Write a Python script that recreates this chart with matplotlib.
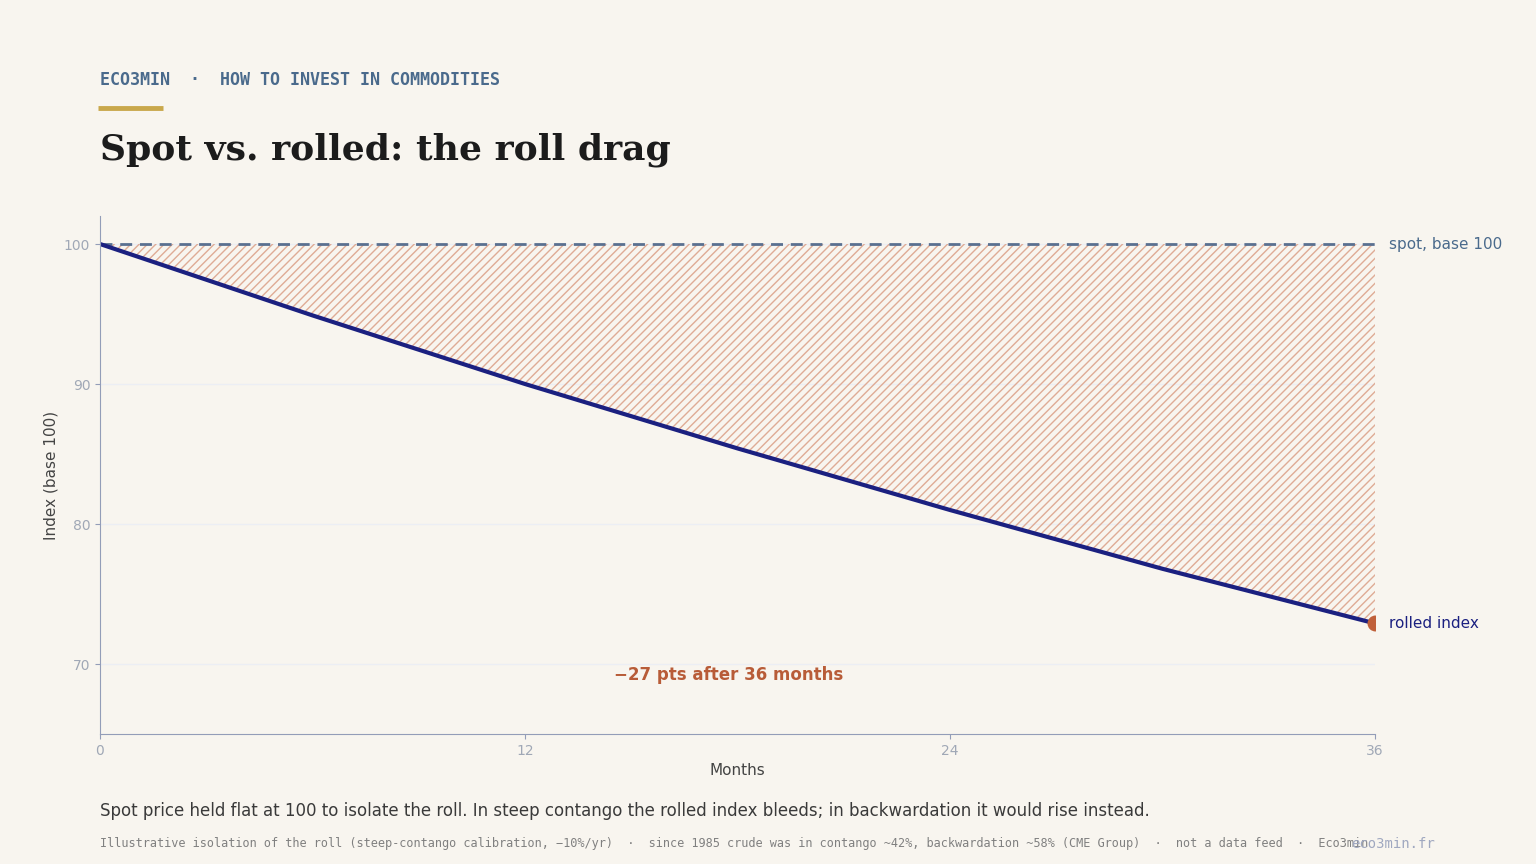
import matplotlib.pyplot as plt
import numpy as np

# values (months -> index level)
months = [0, 6, 12, 18, 24, 30, 36]
rolled = [100.0, 94.9, 90.0, 85.4, 81.0, 76.8, 72.9]
spot = [100, 100, 100, 100, 100, 100, 100]
x_ticks = [0, 12, 24, 36]
y_ticks = [70, 80, 90, 100]

bg = '#f8f5ef'
navy = '#1b2080'
slate = '#4a6a8c'
rust = '#b85c38'

fig = plt.figure(figsize=(15.36, 8.64), dpi=100, facecolor=bg)
ax = fig.add_axes([100 / 1536, 1 - 734 / 864, 1275 / 1536, 518 / 864])
ax.set_facecolor(bg)

m = np.array(months)
r = np.array(rolled)
s = np.array(spot)

# shaded roll drag
ax.fill_between(m, r, s, facecolor='none', edgecolor='#dfab95', hatch='////', linewidth=0)
ax.plot(m, s, color='#5a7090', lw=2, ls=(0, (4.3, 2.8)))
ax.plot(m, r, color=navy, lw=3, solid_capstyle='round')
ax.scatter([m[-1]], [r[-1]], s=110, color='#c0603a', zorder=5)

ax.set_xlim(0, 36)
ax.set_ylim(65, 102)
ax.set_xticks(x_ticks)
ax.set_yticks(y_ticks)
ax.grid(axis='y', color='#eceef4', lw=1)
ax.set_axisbelow(True)
for side in ['top', 'right']:
    ax.spines[side].set_visible(False)
for side in ['left', 'bottom']:
    ax.spines[side].set_color('#939db8')
ax.tick_params(colors='#939db8', labelcolor='#a0a8b6', labelsize=10)
ax.set_xlabel('Months', color='#444444', fontsize=11, labelpad=4)
ax.set_ylabel('Index (base 100)', color='#444444', fontsize=11, labelpad=4)

ax.text(36.4, 100, 'spot, base 100', color=slate, fontsize=11, va='center', clip_on=False)
ax.text(36.4, r[-1], 'rolled index', color=navy, fontsize=11, va='center', clip_on=False)
ax.text(17.75, 69.2, '\u221227 pts after 36 months', color=rust, fontsize=12,
        fontweight='bold', ha='center', va='center')

# header
fig.text(100 / 1536, 1 - 80 / 864, 'ECO3MIN  \u00b7  HOW TO INVEST IN COMMODITIES',
         family='DejaVu Sans Mono', fontweight='bold', fontsize=12, color=slate, va='center')
fig.add_artist(plt.Line2D([98 / 1536, 163 / 1536], [1 - 107.5 / 864] * 2, color='#c9a84c',
                          lw=3.5, solid_capstyle='butt'))
fig.text(100 / 1536, 1 - 150 / 864, 'Spot vs. rolled: the roll drag', family='DejaVu Serif',
         fontweight='bold', fontsize=26, color='#1c1c1c', va='center')

# footer
fig.text(100 / 1536, 1 - 811 / 864,
         'Spot price held flat at 100 to isolate the roll. In steep contango the rolled index bleeds; '
         'in backwardation it would rise instead.', fontsize=12, color='#3a3a3a', va='center')
fig.text(100 / 1536, 1 - 844 / 864,
         'Illustrative isolation of the roll (steep-contango calibration, \u221210%/yr)  \u00b7  '
         'since 1985 crude was in contango ~42%, backwardation ~58% (CME Group)  \u00b7  '
         'not a data feed  \u00b7  Eco3min', family='DejaVu Sans Mono', fontsize=8.55,
         color='#808080', va='center')
fig.text(1435 / 1536, 1 - 844 / 864, 'eco3min.fr', family='DejaVu Sans Mono', fontsize=10,
         color='#a0a8c0', va='center', ha='right')

fig.savefig('out.png', dpi=100, facecolor=bg)
